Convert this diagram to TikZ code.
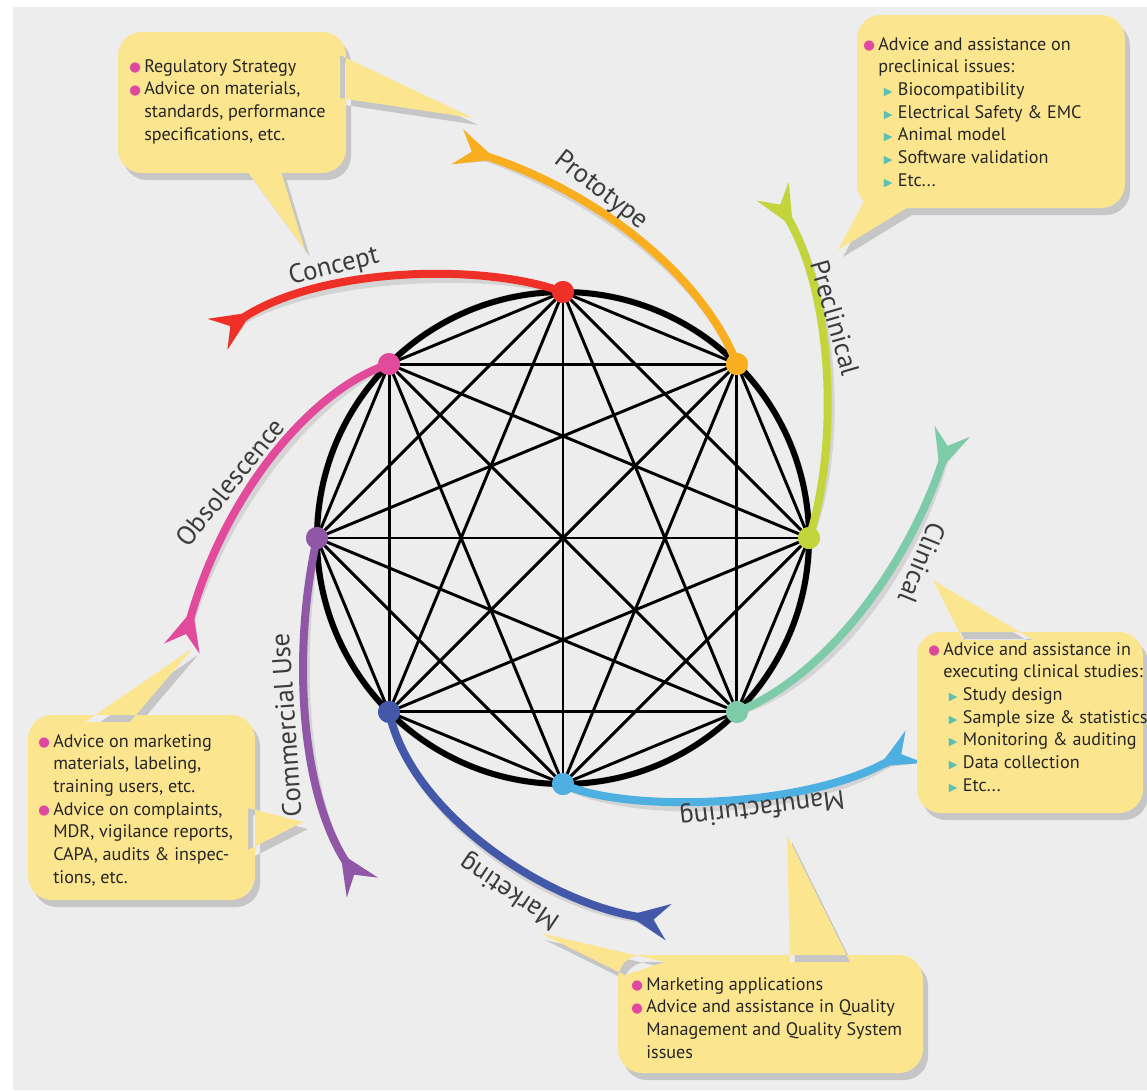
\documentclass[tikz,border=0pt]{standalone}
\usepackage{fontspec}
\setmainfont{PT Sans}
\newfontfamily\symf{DejaVu Sans}
\usetikzlibrary{arrows.meta}
\definecolor{bgc}{HTML}{EDEDED}
\definecolor{boxc}{HTML}{FBE58F}
\definecolor{bulc}{HTML}{E0479E}
\definecolor{tric}{HTML}{5CBFB3}
\definecolor{labc}{HTML}{3C3C3C}
\definecolor{cred}{HTML}{EE3028}
\definecolor{corange}{HTML}{F9AE1F}
\definecolor{cgreen}{HTML}{C3D53B}
\definecolor{cteal}{HTML}{7DCBA8}
\definecolor{clblue}{HTML}{4EAFE1}
\definecolor{cdblue}{HTML}{4358A8}
\definecolor{cpurple}{HTML}{8F57A6}
\definecolor{cpink}{HTML}{E24A9C}
\newcommand\bulit{\makebox[11.25pt][l]{\raisebox{0.3pt}{\symf\fontsize{10}{10}\selectfont\textcolor{bulc}{●}}}}
\newcommand\contl{\hspace*{11.25pt}}
\newcommand\subit{\hspace*{15.5pt}\makebox[10.5pt][l]{\symf\fontsize{8.5}{8.5}\selectfont\textcolor{tric}{▶}}}
\newcommand\fl{\rule{0pt}{10pt}}
\begin{document}
\begin{tikzpicture}[x=0.75pt,y=-0.75pt,
  chord/.style={line width=2.2pt, black},
  arc/.style={line width=6pt, -{Stealth[reversed,length=30pt,width=27pt,inset=11pt]}},
  arcshadow/.style={arc, draw=black, opacity=0.10},
  dot/.style={circle, minimum size=16.5pt, inner sep=0pt},
  lab/.style={text=labc, font=\fontsize{20}{23}\selectfont, inner sep=0pt},
  txt/.style={anchor=north west, align=left, inner sep=0pt, font=\fontsize{13.6}{17}\selectfont, text=black!85},
  callout/.style={fill=boxc},
  cshadow/.style={fill=black, opacity=0.16}]
\useasboundingbox (0,0) rectangle (1147,1090);
\fill[bgc] (13,7) rectangle (1147,1090);
% circle geometry
\coordinate (c) at (563,538);
\foreach \k/\a in {1/-90,2/-45,3/0,4/45,5/90,6/135,7/180,8/225}{
  \path (c) ++(\a:246) coordinate (p\k);
}
% end coordinates
\coordinate (e1) at (218,334);
\coordinate (e2) at (458,147);
\coordinate (e3) at (773,192);
\coordinate (e4) at (952,432);
\coordinate (e5) at (914,747);
\coordinate (e6) at (668,922);
\coordinate (e7) at (362,887);
\coordinate (e8) at (182,648);
% soft shadows of circle and arcs
\begin{scope}[shift={(4,7)}]
\draw[line width=5pt, black, opacity=0.10] (c) circle (246);
\draw[arcshadow] (p1) .. controls (480,262) and (320,268) .. (e1);
\draw[arcshadow] (p2) .. controls (700,270) and (590,190) .. (e2);
\draw[arcshadow] (p3) .. controls (838,450) and (835,300) .. (e3);
\draw[arcshadow] (p4) .. controls (830,675) and (910,560) .. (e4);
\draw[arcshadow] (p5) .. controls (620,812) and (800,810) .. (e5);
\draw[arcshadow] (p6) .. controls (410,810) and (540,900) .. (e6);
\draw[arcshadow] (p7) .. controls (292,650) and (300,790) .. (e7);
\draw[arcshadow] (p8) .. controls (310,390) and (225,495) .. (e8);
\end{scope}
\draw[line width=4.5pt] (c) circle (246);
\foreach \i in {1,...,7}{
  \pgfmathtruncatemacro\s{\i+1}
  \foreach \j in {\s,...,8}{ \draw[chord] (p\i) -- (p\j); }
}
% dots
\node[dot, fill=cred] (d1) at (p1) {};
\node[dot, fill=corange] (d2) at (p2) {};
\node[dot, fill=cgreen] (d3) at (p3) {};
\node[dot, fill=cteal] (d4) at (p4) {};
\node[dot, fill=clblue] (d5) at (p5) {};
\node[dot, fill=cdblue] (d6) at (p6) {};
\node[dot, fill=cpurple] (d7) at (p7) {};
\node[dot, fill=cpink] (d8) at (p8) {};
% arcs
\draw[arc, draw=cred] (d1.center) .. controls (480,262) and (320,268) .. (e1);
\draw[arc, draw=corange] (d2.center) .. controls (700,270) and (590,190) .. (e2);
\draw[arc, draw=cgreen] (d3.center) .. controls (838,450) and (835,300) .. (e3);
\draw[arc, draw=cteal] (d4.center) .. controls (830,675) and (910,560) .. (e4);
\draw[arc, draw=clblue] (d5.center) .. controls (620,812) and (800,810) .. (e5);
\draw[arc, draw=cdblue] (d6.center) .. controls (410,810) and (540,900) .. (e6);
\draw[arc, draw=cpurple] (d7.center) .. controls (292,650) and (300,790) .. (e7);
\draw[arc, draw=cpink] (d8.center) .. controls (310,390) and (225,495) .. (e8);
% redraw dots on top
\foreach \k/\col in {1/cred,2/corange,3/cgreen,4/cteal,5/clblue,6/cdblue,7/cpurple,8/cpink}{
  \fill[\col] (p\k) circle (11);
}
% labels
\node[lab, rotate=14] (lconcept) at (334,267) {Concept};
\node[lab, rotate=-38] (lproto) at (601,191) {Prototype};
\node[lab, rotate=-74] (lprecl) at (835,318) {Preclinical};
\node[lab, rotate=-112] (lclin) at (922,563) {Clinical};
\node[lab, rotate=187] (lmanu) at (762,807) {Manufacturing};
\node[lab, rotate=146] (lmark) at (510,891) {Marketing};
\node[lab, rotate=94] (lcomm) at (286,725) {Commercial Use};
\node[lab, rotate=51] (lobs) at (230,482) {Obsolescence};
% callouts: shadows
\begin{scope}[shift={(5,7)}]
\fill[cshadow] [rounded corners=18] (118,32) rectangle (346,173) [sharp corners] (340,55) -- (473,118) -- (340,98) -- cycle (245,168) -- (305,250) -- (280,168) -- cycle;
\fill[cshadow] [rounded corners=18] (857,15) rectangle (1125,208) [sharp corners] (870,190) -- (838,250) -- (920,200) -- cycle;
\fill[cshadow] [rounded corners=18] (917,632) rectangle (1143,813) [sharp corners] (963,640) -- (933,580) -- (1033,640) -- cycle;
\fill[cshadow] [rounded corners=18] (28,715) rectangle (255,900) [sharp corners] (85,722) -- (193,648) -- (130,722) -- cycle (248,808) -- (303,822) -- (248,850) -- cycle;
\fill[cshadow] [rounded corners=18] (618,955) rectangle (923,1073) [sharp corners] (625,975) -- (540,933) -- (665,962) -- cycle (790,962) -- (787,835) -- (850,962) -- cycle;
\end{scope}
% callouts
\fill[callout] [rounded corners=18] (118,32) rectangle (346,173) [sharp corners] (340,55) -- (473,118) -- (340,98) -- cycle (245,168) -- (305,250) -- (280,168) -- cycle;
\fill[callout] [rounded corners=18] (857,15) rectangle (1125,208) [sharp corners] (870,190) -- (838,250) -- (920,200) -- cycle;
\fill[callout] [rounded corners=18] (917,632) rectangle (1143,813) [sharp corners] (963,640) -- (933,580) -- (1033,640) -- cycle;
\fill[callout] [rounded corners=18] (28,715) rectangle (255,900) [sharp corners] (85,722) -- (193,648) -- (130,722) -- cycle (248,808) -- (303,822) -- (248,850) -- cycle;
\fill[callout] [rounded corners=18] (618,955) rectangle (923,1073) [sharp corners] (625,975) -- (540,933) -- (665,962) -- cycle (790,962) -- (787,835) -- (850,962) -- cycle;
% texts
\node[txt] (ta) at (129,58.7) {\fl\bulit Regulatory Strategy\\ \bulit Advice on materials,\\ \contl standards, performance\\ \contl specifications, etc.};
\node[txt] (tb) at (863,36.7) {\fl\bulit Advice and assistance on\\ \contl preclinical issues:\\ \subit Biocompatibility\\ \subit Electrical Safety \& EMC\\ \subit Animal model\\ \subit Software validation\\ \subit Etc...};
\node[txt] (tc) at (928,641.7) {\fl\bulit Advice and assistance in\\ \contl executing clinical studies:\\ \subit Study design\\ \subit Sample size \& statistics\\ \subit Monitoring \& auditing\\ \subit Data collection\\ \subit Etc...};
\node[txt] (td) at (38,733.7) {\fl\bulit Advice on marketing\\ \contl materials, labeling,\\ \contl training users, etc.\\ \bulit Advice on complaints,\\ \contl MDR, vigilance reports,\\ \contl CAPA, audits \& inspec-\\ \contl tions, etc.};
\node[txt] (te) at (631,976.7) {\fl\bulit Marketing applications\\ \bulit Advice and assistance in Quality\\ \contl Management and Quality System\\ \contl issues};
\end{tikzpicture}
\end{document}
